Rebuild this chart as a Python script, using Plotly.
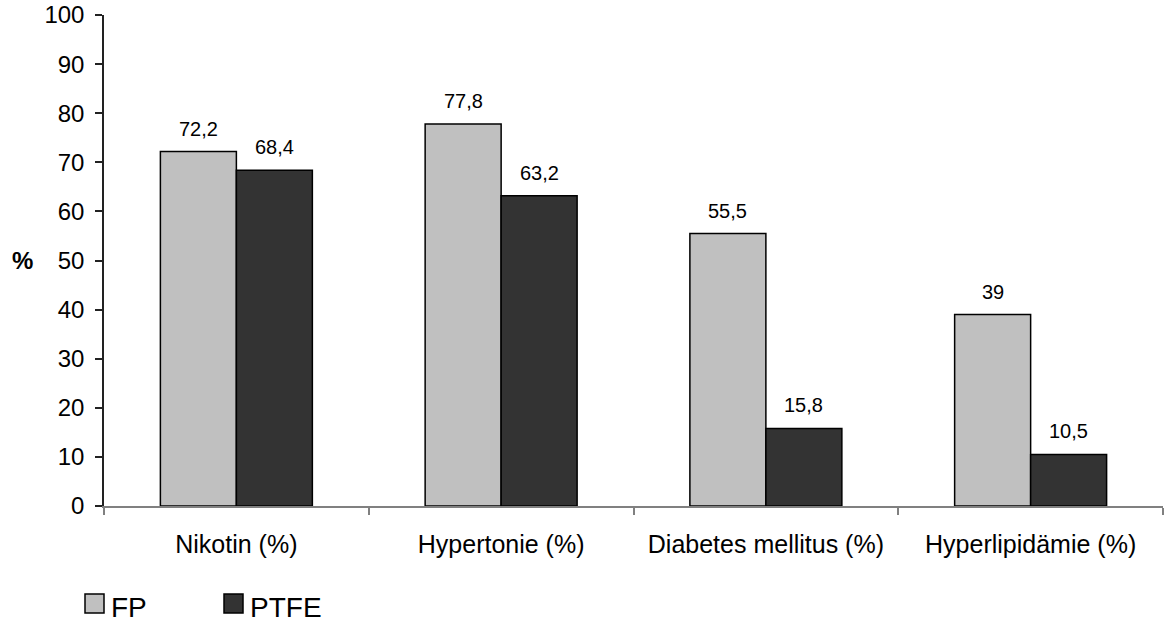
import plotly.graph_objects as go

categories = ["Nikotin (%)", "Hypertonie (%)", "Diabetes mellitus (%)", "Hyperlipidämie (%)"]
series_names = ["FP", "PTFE"]
fp_values = [72.2, 77.8, 55.5, 39]
ptfe_values = [68.4, 63.2, 15.8, 10.5]
y_ticks = [0, 10, 20, 30, 40, 50, 60, 70, 80, 90, 100]

FONT = "Arial, 'Liberation Sans', sans-serif"
colors = ["#C0C0C0", "#333333"]

fig = go.Figure()
for name, vals, col in zip(series_names, [fp_values, ptfe_values], colors):
    fig.add_trace(go.Bar(
        name=name, x=categories, y=vals,
        marker=dict(color=col, line=dict(color="#000000", width=1.5)),
        showlegend=False,
    ))

# value labels above each bar (bar half-width = 38 px)
for shift, vals in zip([-38, 38], [fp_values, ptfe_values]):
    for c, v in zip(categories, vals):
        fig.add_annotation(
            x=c, y=v, xref="x", yref="y",
            text=f"{v:g}".replace(".", ","),
            showarrow=False, xshift=shift, yshift=10, yanchor="bottom",
            font=dict(family=FONT, size=20, color="#000000"),
        )

# axis title "%"
fig.add_annotation(
    xref="paper", yref="paper", x=-0.077, y=0.5, text="<b>%</b>",
    showarrow=False, xanchor="center", yanchor="middle",
    font=dict(family=FONT, size=24, color="#000000"),
)

# legend drawn below the axis
legend_x = [-19, 120]
for i, (name, col) in enumerate(zip(series_names, colors)):
    x0 = legend_x[i]
    fig.add_shape(
        type="rect", xref="paper", yref="paper",
        xsizemode="pixel", ysizemode="pixel", xanchor=0, yanchor=0,
        x0=x0, x1=x0 + 19, y0=-107, y1=-88,
        fillcolor=col, line=dict(color="#000000", width=1.5),
    )
    fig.add_annotation(
        xref="paper", yref="paper", x=0, y=(506 - 607) / 491,
        xshift=x0 + 24, text=name, showarrow=False,
        xanchor="left", yanchor="middle",
        font=dict(family=FONT, size=28, color="#000000"),
    )

fig.update_layout(
    width=1164, height=625,
    margin=dict(l=104, r=1, t=15, b=119),
    paper_bgcolor="#FFFFFF", plot_bgcolor="#FFFFFF",
    barmode="group", bargap=0.426, bargroupgap=0,
    font=dict(family=FONT, color="#000000"),
    showlegend=False,
    xaxis=dict(
        showline=True, linecolor="#808080", linewidth=1.5,
        ticks="outside", ticklen=7, tickcolor="#808080", tickwidth=1.5,
        tickson="boundaries", showgrid=False, zeroline=False,
        tickfont=dict(family=FONT, size=25, color="#000000"),
        ticklabelstandoff=15,
    ),
    yaxis=dict(
        range=[0, 100], tickvals=y_ticks,
        showline=True, linecolor="#222222", linewidth=1.5,
        ticks="outside", ticklen=7, tickcolor="#222222", tickwidth=1.5,
        showgrid=False, zeroline=False,
        tickfont=dict(family=FONT, size=24, color="#000000"),
        ticklabelstandoff=6,
    ),
)

fig.write_html("out.html")
